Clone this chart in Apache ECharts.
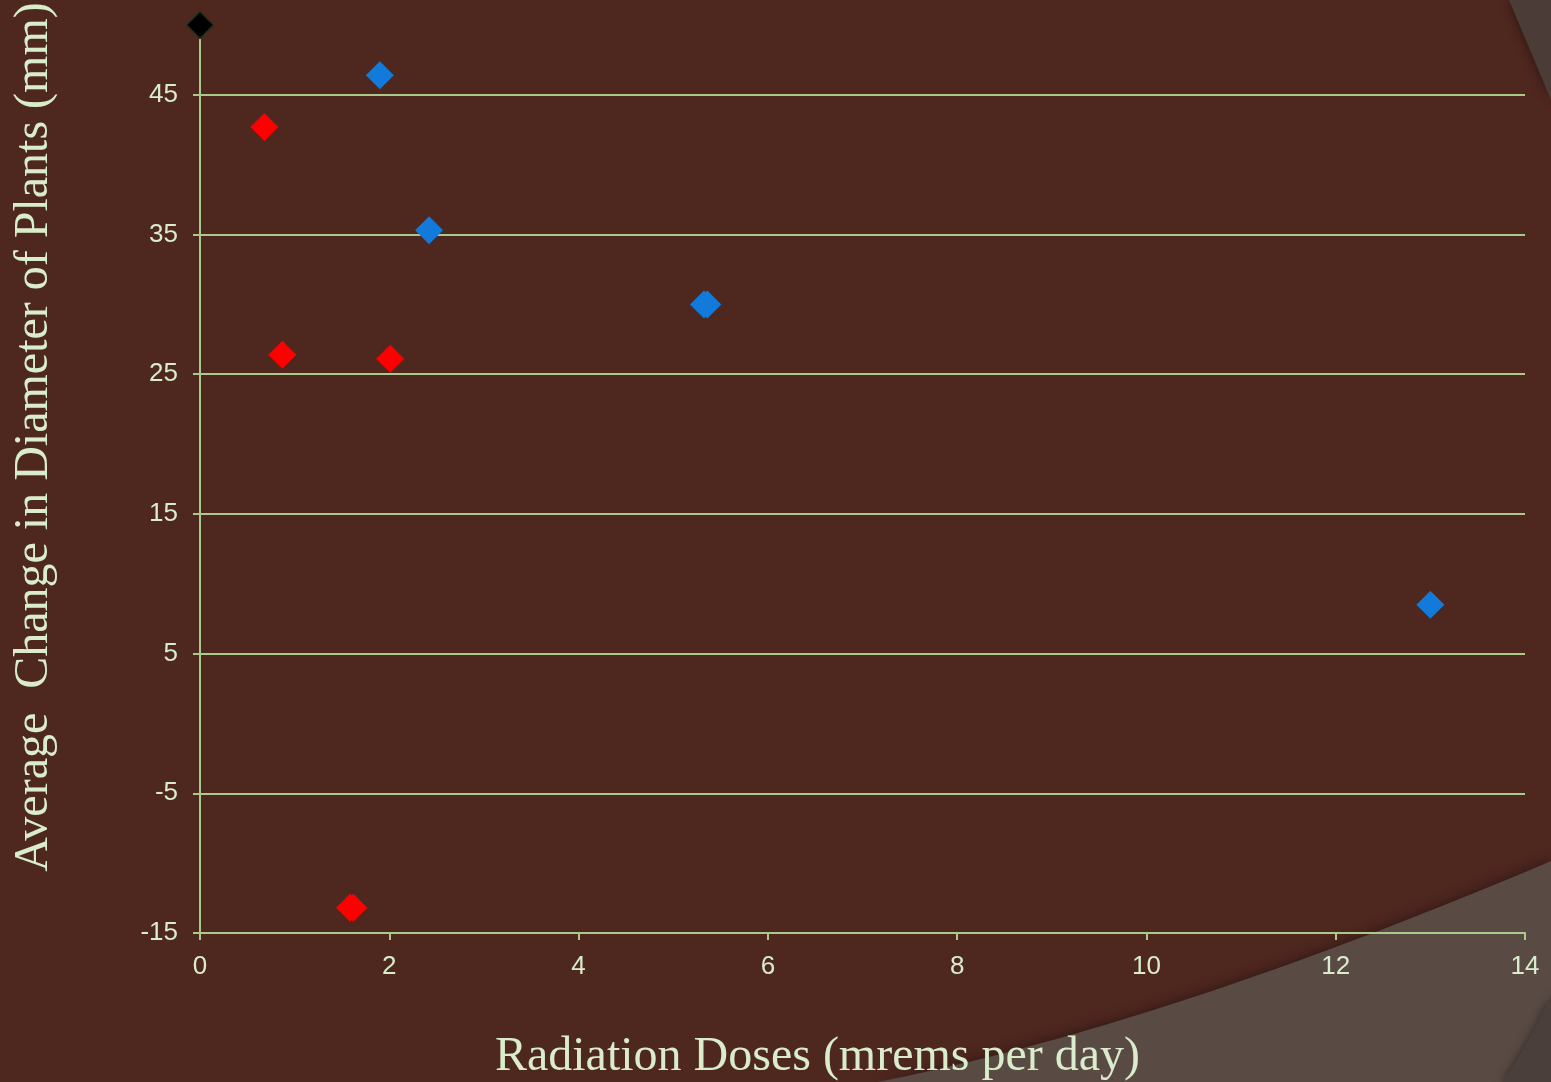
<!DOCTYPE html>
<html>
<head>
<meta charset="utf-8">
<style>
html,body{margin:0;padding:0;background:#4E271F;}
#chart{width:1551px;height:1082px;}
</style>
<script src="https://cdn.jsdelivr.net/npm/echarts@6/dist/echarts.min.js"></script>
</head>
<body>
<div id="chart"></div>
<script>
// Data
const blueX = [1.90, 2.42, 5.325, 5.36, 13.0];
const blueY = [46.4, 35.3, 30.0, 30.0, 8.5];
const redX = [0.68, 0.87, 2.01, 1.585, 1.62];
const redY = [42.7, 26.4, 26.1, -13.2, -13.2];
const blackX = [0];
const blackY = [50];
const xTicks = [0, 2, 4, 6, 8, 10, 12, 14];
const yTicks = [-15, -5, 5, 15, 25, 35, 45];
const xTitle = 'Radiation Doses (mrems per day)';
const yTitle = 'Average  Change in Diameter of Plants (mm)';

const pairs = (xs, ys) => xs.map((x, i) => [x, ys[i]]);
const lineCol = '#aac98a';
const textCol = '#d9eccb';

// decorative background shapes (slide theme), quadratic curve edges
function quadShape(p0, c, p1, extra) {
  const pts = [];
  for (let i = 0; i <= 40; i++) {
    const t = i / 40, u = 1 - t;
    pts.push([u*u*p0[0] + 2*u*t*c[0] + t*t*p1[0], u*u*p0[1] + 2*u*t*c[1] + t*t*p1[1]]);
  }
  return pts.concat(extra);
}

const chart = echarts.init(document.getElementById('chart'), null, {renderer: 'canvas'});
chart.setOption({
  animation: false,
  backgroundColor: '#4E271F',
  graphic: [
    {type: 'polygon', z: -5, silent: true,
     shape: {points: quadShape([878, 1082], [1165, 1025], [1551, 861], [[1551, 1082]])},
     style: {fill: '#594A44', shadowBlur: 14, shadowColor: 'rgba(0,0,0,0.45)'}},
    {type: 'polygon', z: -4, silent: true,
     shape: {points: quadShape([1502, 1082], [1528, 1045], [1551, 995], [[1551, 1082]])},
     style: {fill: '#4A3F3B', shadowBlur: 10, shadowColor: 'rgba(0,0,0,0.45)'}},
    {type: 'polygon', z: -5, silent: true,
     shape: {points: quadShape([1509, 0], [1528, 45], [1551, 100], [[1551, 0]])},
     style: {fill: '#4B3C37', shadowBlur: 12, shadowColor: 'rgba(0,0,0,0.45)'}}
  ],
  grid: {left: 200, right: 26, top: 25, bottom: 149, containLabel: false, outerBoundsMode: 'none'},
  xAxis: {
    type: 'value', min: xTicks[0], max: xTicks[xTicks.length - 1], interval: 2,
    name: xTitle, nameLocation: 'middle', nameGap: 100,
    nameTextStyle: {color: textCol, fontFamily: 'Liberation Serif', fontSize: 48, padding: [0, 90, 0, 0]},
    axisLine: {show: true, onZero: false, lineStyle: {color: lineCol, width: 2}},
    axisTick: {show: true, length: 7, lineStyle: {color: lineCol, width: 2}},
    axisLabel: {color: textCol, fontFamily: 'Liberation Sans', fontSize: 26, margin: 21},
    splitLine: {show: false}
  },
  yAxis: {
    type: 'value', min: yTicks[0], max: 50, interval: 10,
    name: yTitle, nameLocation: 'middle', nameGap: 142, nameRotate: 90,
    nameTextStyle: {color: textCol, fontFamily: 'Liberation Serif', fontSize: 48, padding: [0, 0, 0, 84]},
    axisLine: {show: true, onZero: false, lineStyle: {color: lineCol, width: 2}},
    axisTick: {show: true, length: 7, lineStyle: {color: lineCol, width: 2}},
    axisLabel: {color: textCol, fontFamily: 'Liberation Sans', fontSize: 26, margin: 22, showMaxLabel: false},
    splitLine: {show: true, showMinLine: false, showMaxLine: false, lineStyle: {color: lineCol, width: 2}}
  },
  series: [
    {type: 'scatter', name: 'red', symbol: 'diamond', symbolSize: 28,
     itemStyle: {color: '#FF0000', opacity: 1}, data: pairs(redX, redY)},
    {type: 'scatter', name: 'blue', symbol: 'diamond', symbolSize: 28,
     itemStyle: {color: '#117ADB', opacity: 1}, data: pairs(blueX, blueY)},
    {type: 'scatter', name: 'black', symbol: 'diamond', symbolSize: 27,
     itemStyle: {color: '#000000', borderColor: '#223218', borderWidth: 1.5, opacity: 1},
     data: pairs(blackX, blackY), clip: false}
  ]
});
</script>
</body>
</html>
